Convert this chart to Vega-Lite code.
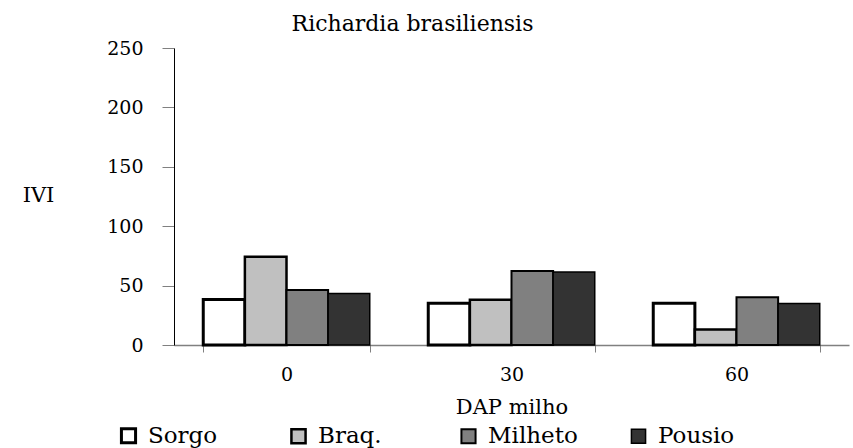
{
  "$schema": "https://vega.github.io/schema/vega-lite/v6.json",
  "autosize": "none",
  "width": 675,
  "height": 297,
  "padding": {"left": 174, "top": 48, "right": 4, "bottom": 103},
  "background": "white",
  "config": {
    "view": {"stroke": null},
    "font": "DejaVu Serif"
  },
  "title": {
    "text": "Richardia brasiliensis",
    "font": "DejaVu Serif",
    "fontSize": 22,
    "fontWeight": "normal",
    "color": "black",
    "anchor": "middle",
    "frame": "group",
    "dx": -99,
    "offset": 3
  },
  "data": {
    "values": [
      {"dap": "0", "trat": "Sorgo", "ivi": 38.3},
      {"dap": "0", "trat": "Braq.", "ivi": 74.3},
      {"dap": "0", "trat": "Milheto", "ivi": 46.4},
      {"dap": "0", "trat": "Pousio", "ivi": 43.3},
      {"dap": "30", "trat": "Sorgo", "ivi": 35.2},
      {"dap": "30", "trat": "Braq.", "ivi": 38.0},
      {"dap": "30", "trat": "Milheto", "ivi": 62.3},
      {"dap": "30", "trat": "Pousio", "ivi": 61.5},
      {"dap": "60", "trat": "Sorgo", "ivi": 35.2},
      {"dap": "60", "trat": "Braq.", "ivi": 13.1},
      {"dap": "60", "trat": "Milheto", "ivi": 40.2},
      {"dap": "60", "trat": "Pousio", "ivi": 34.9}
    ]
  },
  "mark": {"type": "bar", "stroke": "black"},
  "encoding": {
    "x": {
      "field": "dap",
      "type": "nominal",
      "sort": ["0", "30", "60"],
      "scale": {"paddingInner": 0.26, "paddingOuter": 0.13},
      "axis": {
        "title": "DAP milho",
        "labelAngle": 0,
        "labelFont": "DejaVu Serif",
        "labelFontSize": 19,
        "labelColor": "black",
        "labelPadding": 13,
        "titleFont": "DejaVu Serif",
        "titleFontSize": 21,
        "titleFontWeight": "normal",
        "titleColor": "black",
        "titlePadding": 12,
        "domainColor": "#808080",
        "domainWidth": 1.5,
        "tickColor": "#808080",
        "tickSize": 7,
        "tickBand": "extent"
      }
    },
    "xOffset": {
      "field": "trat",
      "type": "nominal",
      "sort": ["Sorgo", "Braq.", "Milheto", "Pousio"],
      "scale": {"paddingInner": 0, "paddingOuter": 0}
    },
    "y": {
      "field": "ivi",
      "type": "quantitative",
      "scale": {"domain": [0, 250], "nice": false},
      "axis": {
        "title": "IVI",
        "values": [0, 50, 100, 150, 200, 250],
        "grid": false,
        "labelFont": "DejaVu Serif",
        "labelFontSize": 19,
        "labelColor": "black",
        "labelPadding": 19,
        "tickSize": 12,
        "tickColor": "#808080",
        "domainColor": "black",
        "domainWidth": 1,
        "titleFont": "DejaVu Serif",
        "titleFontSize": 21,
        "titleFontWeight": "normal",
        "titleColor": "black",
        "titleAngle": 0,
        "titleAlign": "center",
        "titleBaseline": "middle",
        "titleX": -136,
        "titleY": 147
      }
    },
    "fill": {
      "field": "trat",
      "type": "nominal",
      "sort": ["Sorgo", "Braq.", "Milheto", "Pousio"],
      "scale": {"domain": ["Sorgo", "Braq.", "Milheto", "Pousio"], "range": ["#ffffff", "#c0c0c0", "#808080", "#333333"]},
      "legend": {
        "title": null,
        "orient": "none",
        "direction": "horizontal",
        "columns": 4,
        "gridAlign": "all",
        "legendX": -57,
        "legendY": 376,
        "symbolType": "square",
        "symbolSize": 200,
        "symbolStrokeColor": "black",
        "symbolOpacity": 1,
        "labelFont": "DejaVu Serif",
        "labelFontSize": 23,
        "labelColor": "black",
        "labelOffset": 8,
        "columnPadding": 48
      }
    },
    "strokeWidth": {
      "field": "trat",
      "type": "nominal",
      "sort": ["Sorgo", "Braq.", "Milheto", "Pousio"],
      "scale": {"domain": ["Sorgo", "Braq.", "Milheto", "Pousio"], "range": [3, 1.5, 1.5, 1.5]}
    }
  }
}
